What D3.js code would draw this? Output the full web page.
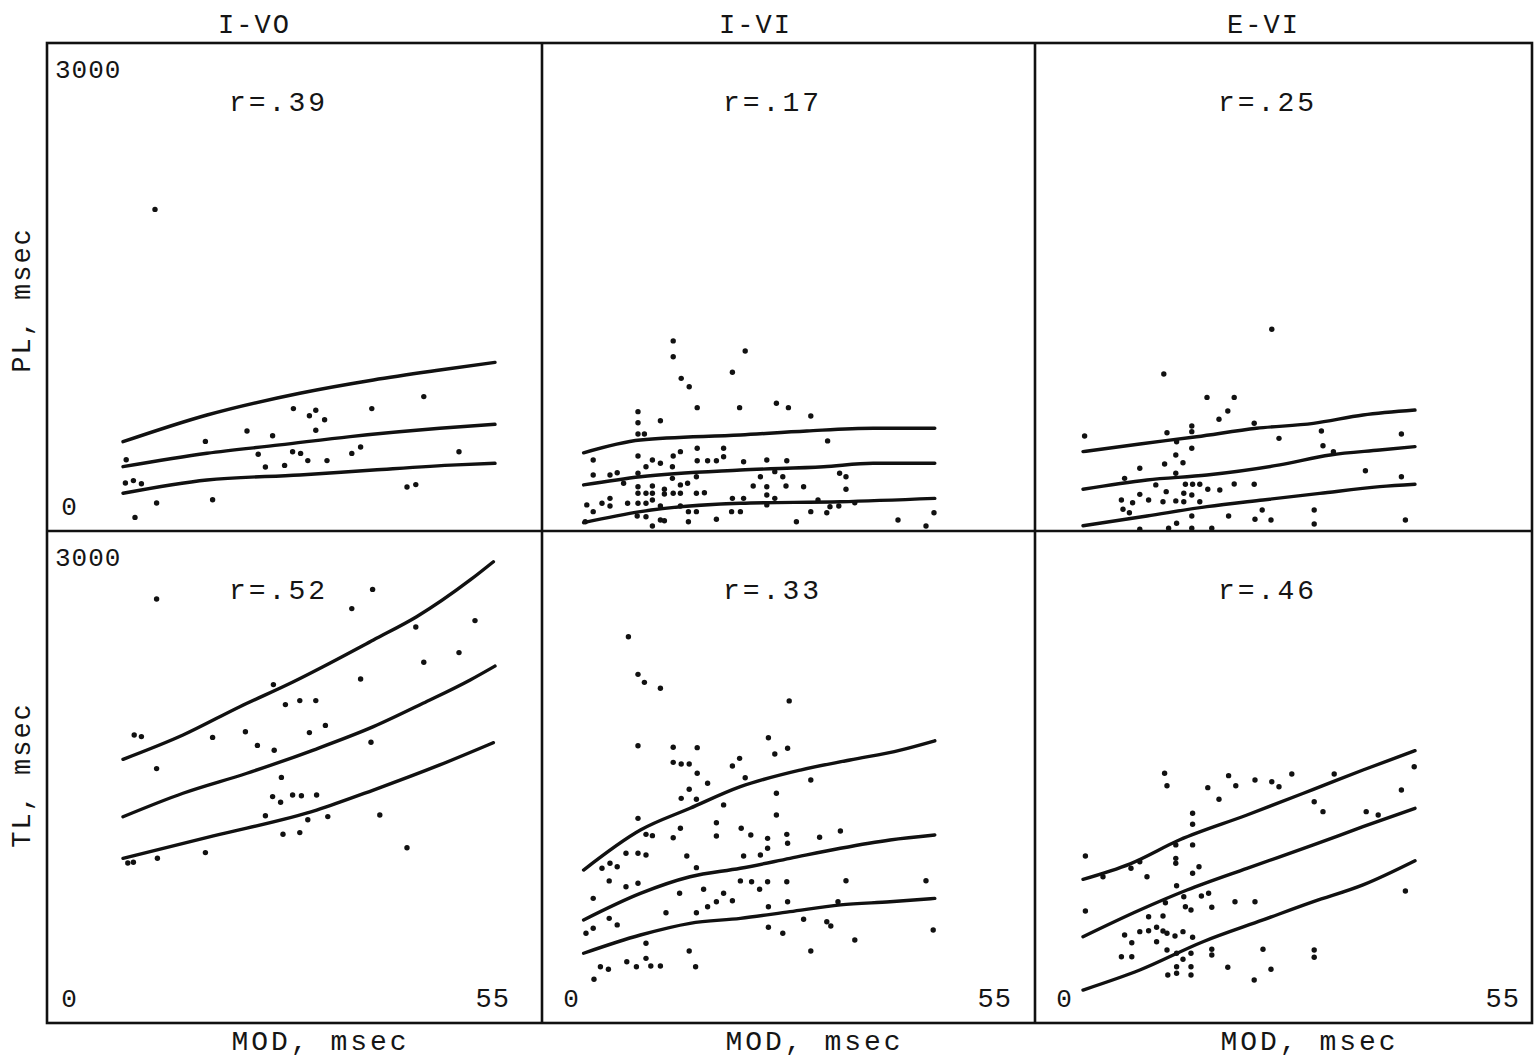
<!DOCTYPE html>
<html>
<head>
<meta charset="utf-8">
<script src="https://cdn.jsdelivr.net/npm/d3@7"></script>
<style>
    body { margin: 0; background: #fff; }
    text { font-family: "Liberation Mono", "DejaVu Sans Mono", monospace; fill: #151515; }
</style>
</head>
<body>
<div class="chart"></div>
<script>
// labels
var conditions = ["I-VO", "I-VI", "E-VI"];
var measures = ["PL, msec", "TL, msec"];
var xLabel = "MOD, msec";
var rValues = [["r=.39", "r=.17", "r=.25"], ["r=.52", "r=.33", "r=.46"]];
var xTicks = [0, 55];
var yTicks = [0, 3000];

// PL, I-VO : [MOD, PL]
var plIVO = [[11.0,2010],[7.4,445],[7.3,300],[8.3,315],[9.3,295],[8.5,85],[11.2,175],[17.3,560],[18.2,195],
    [22.5,625],[25.7,595],[23.9,480],[24.8,400],[27.2,410],[28.3,765],[28.2,495],[29.2,485],[30.1,440],
    [30.3,720],[31.1,755],[32.2,695],[31.1,630],[32.5,440],[35.6,485],[36.7,525],[38.1,765],[42.5,275],
    [43.6,290],[44.6,840],[49.0,495]];
var plIVOHigh = [[7.0,558],[17.5,725],[29.1,861],[38.3,944],[46.6,1006],[53.5,1054]];
var plIVOMid = [[7.0,402],[17.5,486],[26.6,538],[35.4,590],[46.6,642],[53.5,667]];
var plIVOLow = [[7.0,236],[17.5,319],[29.1,350],[38.3,381],[48.7,413],[53.5,423]];

// PL, I-VI
var plIVI = [[13.9,1188],[13.9,1089],[22.9,1125],[21.3,992],[14.9,954],[15.9,902],[16.9,771],[22.2,771],
    [26.8,798],[28.3,771],[31.1,719],[9.5,746],[9.5,677],[9.5,606],[10.3,606],[12.3,689],[33.2,563],
    [3.9,444],[9.5,469],[11.3,444],[12.3,423],[13.9,469],[14.8,496],[16.9,517],[16.9,439],[18.2,439],
    [19.3,439],[20.2,517],[20.2,464],[22.7,433],[25.6,444],[28.1,439],[3.9,350],[6.0,350],[6.9,364],
    [7.7,298],[9.5,361],[9.5,277],[10.5,402],[13.8,402],[13.8,329],[16.8,339],[24.8,339],[26.6,371],
    [27.6,339],[23.9,281],[25.6,277],[28.0,281],[30.2,277],[34.7,361],[35.5,339],[35.5,261],[9.5,236],
    [10.5,236],[11.3,281],[11.3,236],[12.8,261],[12.8,231],[13.9,236],[14.8,288],[14.8,236],[15.7,298],
    [16.8,236],[17.8,239],[3.1,163],[3.9,121],[5.0,173],[6.0,204],[6.0,156],[8.2,173],[9.5,173],
    [10.5,173],[11.3,194],[12.3,156],[14.8,156],[21.3,204],[22.7,204],[25.6,225],[25.6,163],[26.6,204],
    [9.4,94],[10.5,89],[12.3,69],[15.8,121],[15.8,58],[16.8,121],[21.2,121],[22.3,121],[19.3,73],
    [11.3,31],[12.8,64],[29.3,58],[31.1,121],[33.1,114],[33.5,152],[34.6,156],[32.0,194],[36.6,177],
    [42.0,69],[45.5,31],[46.5,114],[2.9,58]];
var plIVIHigh = [[2.7,489],[9.8,569],[22.3,600],[30.6,625],[38.9,642],[46.6,642]];
var plIVIMid = [[2.7,288],[9.8,339],[22.3,381],[32.7,402],[38.9,423],[46.6,423]];
var plIVILow = [[2.7,52],[9.8,121],[22.3,173],[34.8,183],[46.6,204]];

// PL, E-VI
var plEVI = [[27.1,1261],[13.6,981],[19.0,835],[22.4,835],[21.6,750],[20.5,698],[24.9,673],[3.7,594],
    [14.0,614],[17.1,656],[17.1,621],[28.0,579],[33.3,625],[33.5,533],[43.3,606],[15.2,558],[17.1,517],
    [15.1,475],[16.0,427],[13.7,419],[10.6,392],[34.8,496],[38.8,377],[43.3,339],[8.7,329],[12.6,288],
    [15.1,361],[16.3,292],[17.2,292],[18.1,292],[19.1,261],[20.6,256],[22.4,294],[24.9,292],[8.3,194],
    [9.7,177],[10.6,229],[11.7,194],[13.5,183],[13.9,246],[15.1,188],[16.1,236],[16.1,183],[17.1,225],
    [18.1,183],[8.5,136],[9.3,114],[15.2,48],[14.2,17],[17.1,94],[17.1,17],[19.6,17],[10.6,11],
    [21.7,94],[25.0,73],[27.0,69],[25.9,131],[32.4,131],[32.4,44],[43.8,69]];
var plEVIHigh = [[3.5,496],[10.6,544],[17.7,589],[25.2,642],[32.3,673],[38.5,725],[45.0,756]];
var plEVIMid = [[3.5,261],[11.5,319],[19.0,350],[28.1,413],[34.4,475],[40.6,506],[45.0,527]];
var plEVILow = [[3.5,33],[11.5,94],[19.0,152],[26.0,194],[33.1,235],[40.6,277],[45.0,292]];

// TL, I-VO
var tlIVO = [[11.2,2650],[38.2,2710],[35.6,2590],[43.6,2475],[51.0,2515],[44.6,2255],[49.0,2315],
    [36.7,2150],[25.8,2115],[8.4,1800],[9.3,1790],[18.2,1785],[22.3,1820],[23.8,1735],[25.9,1705],
    [27.3,1990],[29.1,2015],[31.1,2015],[30.3,1815],[32.3,1860],[11.2,1590],[38.0,1755],[26.8,1535],
    [25.7,1415],[26.7,1380],[28.2,1425],[29.3,1420],[31.2,1425],[24.8,1295],[30.1,1270],[32.6,1290],
    [39.1,1300],[27.0,1180],[29.1,1190],[42.5,1095],[17.3,1065],[7.6,1000],[8.3,1005],[11.3,1030]];
var tlIVOHigh = [[7.0,1648],[14.5,1800],[21.6,1977],[28.3,2133],[32.0,2227],[38.3,2394],[43.7,2539],[50.4,2769],[53.3,2883]];
var tlIVOMid = [[7.0,1289],[14.5,1436],[22.5,1561],[30.8,1706],[38.3,1852],[44.5,1998],[50.4,2144],[53.5,2231]];
var tlIVOLow = [[7.0,1029],[18.3,1169],[31.2,1331],[38.3,1456],[46.6,1613],[53.3,1752]];

// TL, I-VI
var tlIVI = [[8.3,2414],[9.5,2179],[10.3,2129],[12.3,2092],[28.4,2013],[9.5,1733],[13.9,1723],[16.9,1721],
    [25.8,1783],[26.6,1681],[28.2,1717],[13.9,1629],[14.9,1619],[15.9,1619],[21.3,1606],[22.2,1654],
    [16.9,1561],[18.2,1498],[22.9,1533],[31.1,1519],[15.9,1461],[14.9,1404],[16.8,1398],[20.2,1363],
    [26.8,1436],[26.8,1300],[9.5,1279],[19.3,1252],[14.8,1217],[19.3,1169],[22.4,1217],[23.6,1175],
    [25.7,1154],[28.1,1179],[32.2,1161],[34.8,1200],[10.5,1179],[11.3,1171],[13.9,1158],[8.0,1061],
    [9.5,1061],[10.5,1050],[15.6,1044],[22.7,1044],[24.8,1050],[25.7,1092],[28.2,1123],[5.0,967],
    [6.0,998],[6.9,977],[16.8,971],[5.9,888],[8.0,852],[9.5,873],[14.7,811],[17.7,836],[20.2,811],
    [22.3,888],[23.7,883],[24.7,836],[25.7,883],[28.1,883],[35.5,889],[45.5,889],[3.9,779],[21.3,764],
    [19.3,758],[18.2,727],[28.2,758],[34.5,758],[5.9,654],[3.9,592],[10.5,498],[13.0,689],[16.8,689],
    [25.8,727],[25.8,598],[27.6,561],[30.2,648],[33.1,633],[33.6,606],[36.6,519],[31.1,450],[46.4,581],
    [15.9,450],[16.7,352],[4.8,352],[5.8,336],[8.1,383],[9.3,352],[10.5,404],[11.1,356],[12.3,356],
    [4.0,273],[6.9,613],[3.0,561]];
var tlIVIHigh = [[2.7,956],[9.8,1206],[16.0,1342],[22.3,1477],[29.8,1581],[36.0,1644],[42.3,1706],[46.6,1764]];
var tlIVIMid = [[2.7,644],[9.8,810],[16.0,914],[22.3,967],[28.5,1029],[34.8,1092],[41.0,1144],[46.6,1175]];
var tlIVILow = [[2.7,436],[9.8,550],[16.0,623],[22.3,654],[28.5,696],[34.8,738],[41.0,758],[46.6,779]];

// TL, E-VI
var tlEVI = [[13.7,1561],[14.0,1483],[21.7,1546],[22.6,1483],[25.0,1519],[27.1,1508],[28.0,1477],
    [29.6,1556],[34.9,1556],[19.1,1471],[20.5,1398],[44.9,1602],[43.3,1456],[32.4,1383],[33.5,1321],
    [38.9,1321],[40.4,1300],[17.2,1311],[17.2,1242],[3.8,1044],[17.2,1113],[15.1,1113],[15.1,1029],
    [15.1,998],[10.6,1008],[9.5,967],[11.5,914],[6.0,914],[17.2,936],[18.0,977],[15.2,858],[16.1,789],
    [18.3,794],[19.2,811],[19.6,723],[17.0,706],[16.3,727],[22.5,758],[25.0,758],[3.8,700],[13.8,752],
    [13.5,669],[11.7,664],[10.6,571],[11.7,577],[12.7,598],[13.5,575],[14.0,561],[15.0,544],[16.0,571],
    [17.2,536],[8.7,550],[9.6,502],[12.7,508],[8.3,414],[9.6,414],[14.0,456],[15.2,436],[16.0,398],
    [17.0,436],[19.6,461],[19.6,425],[26.0,461],[32.4,456],[32.4,411],[43.8,825],[14.1,300],[15.2,352],
    [15.2,311],[17.0,352],[17.0,300],[21.6,348],[27.0,336],[24.9,269]];
var tlEVIHigh = [[3.5,898],[9.4,995],[15.6,1145],[24.0,1300],[32.3,1460],[38.5,1581],[45.0,1702]];
var tlEVIMid = [[3.5,539],[10.6,706],[16.5,831],[24.0,967],[32.3,1113],[38.5,1227],[45.0,1342]];
var tlEVILow = [[3.5,206],[10.6,331],[18.5,508],[26.0,644],[32.3,758],[38.5,863],[45.0,1014]];

var panels = [
    { row: 0, col: 0, points: plIVO, curves: [plIVOHigh, plIVOMid, plIVOLow] },
    { row: 0, col: 1, points: plIVI, curves: [plIVIHigh, plIVIMid, plIVILow] },
    { row: 0, col: 2, points: plEVI, curves: [plEVIHigh, plEVIMid, plEVILow] },
    { row: 1, col: 0, points: tlIVO, curves: [tlIVOHigh, tlIVOMid, tlIVOLow] },
    { row: 1, col: 1, points: tlIVI, curves: [tlIVIHigh, tlIVIMid, tlIVILow] },
    { row: 1, col: 2, points: tlEVI, curves: [tlEVIHigh, tlEVIMid, tlEVILow] }
];

// frame geometry
var width = 1539, height = 1060;
var colEdges = [47, 542, 1035, 1532];
var rowEdges = [43, 531, 1023];
var titleShift = [-40, -33, -20];   // titles sit left of the column centre
var tickRight = [32, 23, 12];       // "55" right inset per column

var svg = d3.select(".chart").append("svg")
    .attr("width", width)
    .attr("height", height);

var line = d3.line()
    .x(function (d) { return d[0]; })
    .y(function (d) { return d[1]; })
    .curve(d3.curveMonotoneX);

panels.forEach(function (p) {
    var x0 = colEdges[p.col], x1 = colEdges[p.col + 1];
    var y0 = rowEdges[p.row], y1 = rowEdges[p.row + 1];

    var x = d3.scaleLinear().domain(d3.extent(xTicks)).range([x0 + 20, x0 + 460]);
    var y = d3.scaleLinear().domain(d3.extent(yTicks)).range([y1, y1 - 480]);

    var g = svg.append("g").attr("class", "panel");

    // fitted curves
    g.selectAll("path.curve")
        .data(p.curves)
        .enter().append("path")
        .attr("class", "curve")
        .attr("fill", "none")
        .attr("stroke", "#111")
        .attr("stroke-width", 3.4)
        .attr("stroke-linecap", "round")
        .attr("d", function (c) {
            return line(c.map(function (d) { return [x(d[0]), y(d[1])]; }));
        });

    // scatter
    g.selectAll("circle")
        .data(p.points)
        .enter().append("circle")
        .attr("cx", function (d) { return x(d[0]); })
        .attr("cy", function (d) { return y(d[1]); })
        .attr("r", 2.7)
        .attr("fill", "#111");

    // r value
    g.append("text")
        .attr("x", (x0 + x1) / 2 - 16)
        .attr("y", y0 + 68)
        .attr("text-anchor", "middle")
        .style("font-size", "28px")
        .style("letter-spacing", "3px")
        .text(rValues[p.row][p.col]);

    // corner tick labels
    if (p.col === 0) {
        g.append("text")
            .attr("x", x0 + 8)
            .attr("y", y0 + 35)
            .style("font-size", "26px")
            .style("letter-spacing", "1px")
            .text(yTicks[1]);
    }
    if (p.col === 0 || p.row === 1) {
        g.append("text")
            .attr("x", x(xTicks[0]) + (p.col === 0 ? 2 : 9))
            .attr("y", y1 - 16)
            .attr("text-anchor", "middle")
            .style("font-size", "26px")
            .text(p.col === 0 ? yTicks[0] : xTicks[0]);
    }
    if (p.row === 1) {
        g.append("text")
            .attr("x", x1 - tickRight[p.col])
            .attr("y", y1 - 16)
            .attr("text-anchor", "end")
            .style("font-size", "27px")
            .style("letter-spacing", "1px")
            .text(xTicks[1]);
    }
});

// grid frame
svg.append("rect")
    .attr("x", colEdges[0]).attr("y", rowEdges[0])
    .attr("width", colEdges[3] - colEdges[0])
    .attr("height", rowEdges[2] - rowEdges[0])
    .attr("fill", "none").attr("stroke", "#111").attr("stroke-width", 2.6);

svg.selectAll("line.vdiv")
    .data([colEdges[1], colEdges[2]])
    .enter().append("line")
    .attr("x1", function (d) { return d; }).attr("x2", function (d) { return d; })
    .attr("y1", rowEdges[0]).attr("y2", rowEdges[2])
    .attr("stroke", "#111").attr("stroke-width", 2.6);

svg.append("line")
    .attr("x1", colEdges[0]).attr("x2", colEdges[3])
    .attr("y1", rowEdges[1]).attr("y2", rowEdges[1])
    .attr("stroke", "#111").attr("stroke-width", 2.6);

// column titles
svg.selectAll("text.title")
    .data(conditions)
    .enter().append("text")
    .attr("class", "title")
    .attr("x", function (d, i) { return (colEdges[i] + colEdges[i + 1]) / 2 + titleShift[i]; })
    .attr("y", 33)
    .attr("text-anchor", "middle")
    .style("font-size", "27px")
    .style("letter-spacing", "2px")
    .text(function (d) { return d; });

// x axis labels
svg.selectAll("text.xlabel")
    .data(conditions)
    .enter().append("text")
    .attr("class", "xlabel")
    .attr("x", function (d, i) { return (colEdges[i] + colEdges[i + 1]) / 2 + 26; })
    .attr("y", 1050)
    .attr("text-anchor", "middle")
    .style("font-size", "28px")
    .style("letter-spacing", "3px")
    .text(xLabel);

// y axis labels
svg.selectAll("text.ylabel")
    .data(measures)
    .enter().append("text")
    .attr("class", "ylabel")
    .attr("transform", function (d, i) {
        var cy = i === 0 ? 300 : 775;
        return "translate(30," + cy + ") rotate(-90)";
    })
    .attr("text-anchor", "middle")
    .style("font-size", "27px")
    .style("letter-spacing", "2px")
    .text(function (d) { return d; });
</script>
</body>
</html>
